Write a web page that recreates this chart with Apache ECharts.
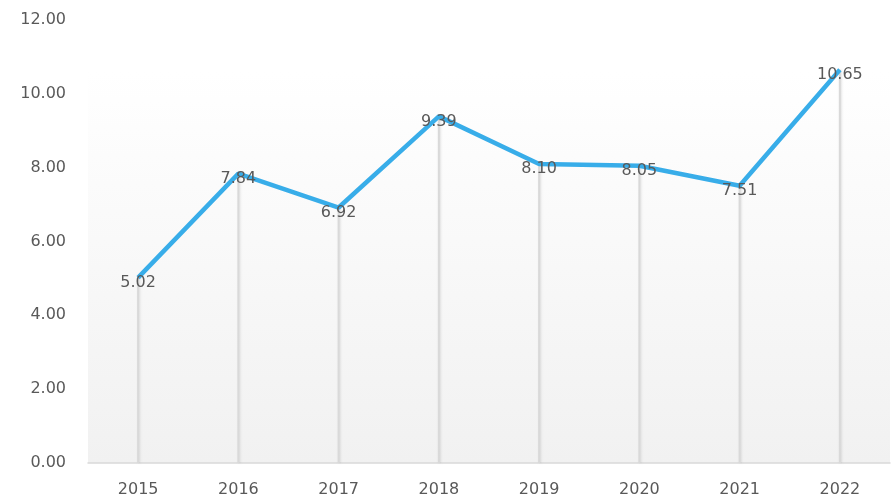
<!DOCTYPE html>
<html>
<head>
<meta charset="utf-8">
<script src="https://cdn.jsdelivr.net/npm/echarts@6/dist/echarts.min.js"></script>
<style>
    html, body { margin: 0; padding: 0; background: #fff; }
    #main { width: 894px; height: 499px; }
</style>
</head>
<body>
<div id="main"></div>
<script>
    // categories and values
    var years = ['2015', '2016', '2017', '2018', '2019', '2020', '2021', '2022'];
    var values = [5.02, 7.84, 6.92, 9.39, 8.10, 8.05, 7.51, 10.65];

    var myChart = echarts.init(document.getElementById('main'));
    var font = '"DejaVu Sans", sans-serif';

    var option = {
        animation: false,
        grid: { left: 88, right: 4, top: 20, bottom: 36 },
        graphic: [{
            type: 'rect',
            z: -10,
            shape: { x: 88, y: 72, width: 802, height: 391 },
            style: {
                fill: new echarts.graphic.LinearGradient(0, 0, 0, 1, [
                    { offset: 0, color: '#ffffff' },
                    { offset: 1, color: '#f1f1f1' }
                ])
            }
        }],
        xAxis: {
            type: 'category',
            data: years,
            boundaryGap: true,
            axisLine: { lineStyle: { color: '#d9d9d9', width: 1.5 } },
            axisTick: { show: false },
            axisLabel: { color: '#595959', fontSize: 16, fontFamily: font, margin: 19 }
        },
        yAxis: {
            type: 'value',
            min: 0,
            max: 12,
            interval: 2,
            axisLine: { show: false },
            axisTick: { show: false },
            splitLine: { show: false },
            axisLabel: {
                color: '#595959', fontSize: 16, fontFamily: font, margin: 22,
                formatter: function (v) { return v.toFixed(2); }
            }
        },
        series: [
            {
                // drop lines
                type: 'bar',
                data: values,
                barWidth: 2,
                silent: true,
                itemStyle: {
                    color: '#d9d9d9',
                    shadowColor: 'rgba(0,0,0,0.1)',
                    shadowBlur: 2,
                    shadowOffsetX: 1
                },
                z: 2
            },
            {
                type: 'line',
                data: values,
                symbol: 'circle',
                symbolSize: 1,
                itemStyle: { color: 'rgba(0,0,0,0)' },
                lineStyle: { color: '#38ade9', width: 4.5 },
                label: {
                    show: true,
                    position: 'inside',
                    offset: [0, 5],
                    color: '#595959',
                    fontSize: 16,
                    fontFamily: font,
                    formatter: function (p) { return p.value.toFixed(2); }
                },
                z: 5
            }
        ]
    };
    myChart.setOption(option);
</script>
</body>
</html>
